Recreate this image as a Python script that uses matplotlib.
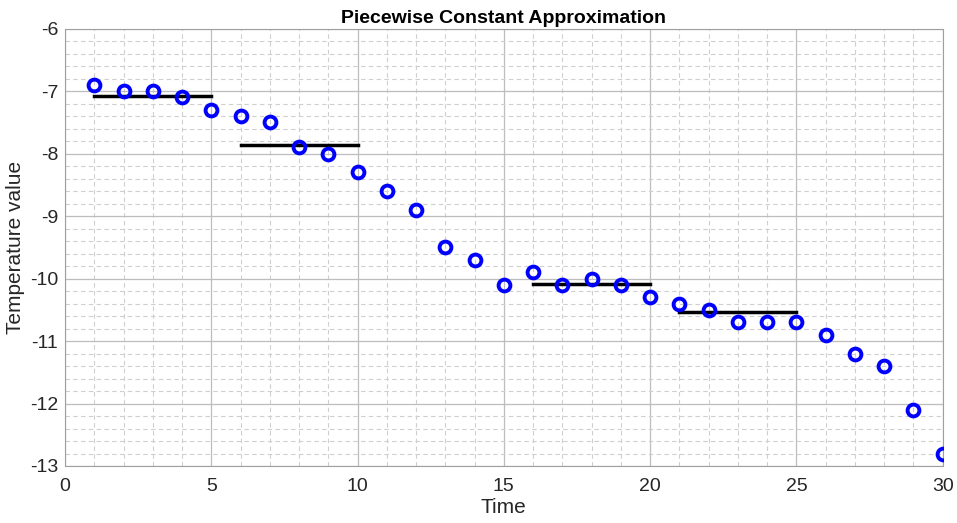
import matplotlib.pyplot as plt
import numpy as np
from matplotlib.ticker import MultipleLocator

plt.rcParams['font.family'] = ['Liberation Sans', 'DejaVu Sans']
plt.rcParams['axes.unicode_minus'] = False

time = np.arange(1, 31)
temps = [-6.9, -7.0, -7.0, -7.1, -7.3, -7.4, -7.5, -7.9, -8.0, -8.3,
         -8.6, -8.9, -9.5, -9.7, -10.1, -9.9, -10.1, -10.0, -10.1, -10.3,
         -10.4, -10.5, -10.7, -10.7, -10.7, -10.9, -11.2, -11.4, -12.1, -12.8]

seg_start = [1, 6, 16, 21]
seg_end = [5, 10, 20, 25]
seg_value = [-7.08, -7.86, -10.08, -10.54]

fig = plt.figure(figsize=(9.57, 5.23), dpi=100)
ax = fig.add_axes([0.068, 0.109, 0.917, 0.836])

ax.plot(time, temps, 'o', linestyle='none', markerfacecolor='none',
        markeredgecolor='#0000ff', markeredgewidth=2.8, markersize=8.5, zorder=3)
for s, e, v in zip(seg_start, seg_end, seg_value):
    ax.plot([s, e], [v, v], color='black', linewidth=2.5, zorder=2)

ax.set_xlim(0, 30)
ax.set_ylim(-13, -6)
ax.xaxis.set_major_locator(MultipleLocator(5))
ax.xaxis.set_minor_locator(MultipleLocator(1))
ax.yaxis.set_major_locator(MultipleLocator(1))
ax.yaxis.set_minor_locator(MultipleLocator(0.2))
ax.grid(which='major', color='#bdbdbd', linewidth=0.9)
ax.grid(which='minor', color='#cfcfcf', linestyle=(0, (4, 3)), linewidth=0.8)
ax.set_axisbelow(True)
ax.tick_params(which='both', length=0, labelsize=14, colors='#262626')
ax.tick_params(axis='x', pad=9)
ax.tick_params(axis='y', pad=5)
for sp in ax.spines.values():
    sp.set_color('#a0a0a0')

ax.set_title('Piecewise Constant Approximation', fontsize=14, fontweight='bold', pad=4)
ax.set_xlabel('Time', fontsize=15, color='#262626', labelpad=2)
ax.set_ylabel('Temperature value', fontsize=15, color='#262626')
ax.yaxis.set_label_coords(-0.046, 0.5)

fig.savefig('out.png', dpi=100)
